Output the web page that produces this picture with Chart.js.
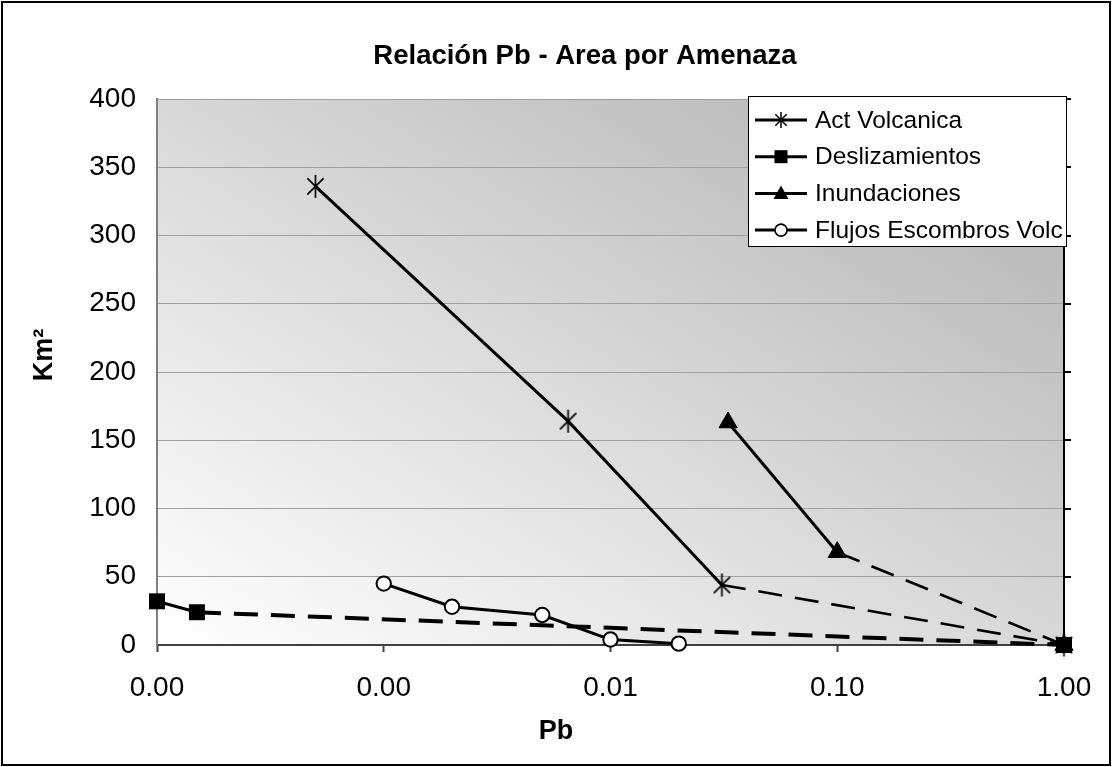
<!DOCTYPE html>
<html>
<head>
<meta charset="utf-8">
<script src="https://cdn.jsdelivr.net/npm/chart.js@4.4.1/dist/chart.umd.min.js"></script>
<style>
  html, body { margin: 0; padding: 0; background: #ffffff; }
  #wrap { position: relative; width: 1112px; height: 767px; }
</style>
</head>
<body>
<div id="wrap"><canvas id="chart"></canvas></div>
<script>
// ---- text ----
const chartTitle = 'Relación Pb - Area por Amenaza';
const xAxisTitle = 'Pb';
const yAxisTitle = 'Km²';
const seriesNames = ['Act Volcanica', 'Deslizamientos', 'Inundaciones', 'Flujos Escombros Volc'];

// ---- data (Pb on a log axis, area in km²) ----
const actVolcanicaPb     = [0.0005, 0.0065, 0.031, 1];
const actVolcanicaArea   = [336, 164, 44, 0];
const deslizamientosPb   = [0.0001, 0.00015, 1];
const deslizamientosArea = [32, 24, 0];
const inundacionesPb     = [0.033, 0.1, 1];
const inundacionesArea   = [163, 68, 0];
const flujosPb           = [0.001, 0.002, 0.005, 0.01, 0.02];
const flujosArea         = [45, 28, 22, 4, 1];

// ---- axis ticks ----
const xTickValues = [0.0001, 0.001, 0.01, 0.1, 1];
const yMin = 0, yMax = 400, yStep = 50;

const FONT = "'Liberation Sans', Arial, Helvetica, sans-serif";
Chart.defaults.font.family = FONT;
Chart.defaults.color = '#000000';

function toPoints(xs, ys) { return xs.map((x, i) => ({ x: x, y: ys[i] })); }

// asterisk marker: vertical bar plus an X
function makeAsterisk(size, lw) {
  const c = document.createElement('canvas');
  c.width = size; c.height = size;
  const g = c.getContext('2d');
  const m = size / 2, r = size / 2 - 1;
  const d = r * Math.SQRT1_2;
  g.strokeStyle = '#000'; g.lineWidth = lw;
  g.beginPath();
  g.moveTo(m, m - r); g.lineTo(m, m + r);
  g.moveTo(m - d, m - d); g.lineTo(m + d, m + d);
  g.moveTo(m - d, m + d); g.lineTo(m + d, m - d);
  g.stroke();
  return c;
}
const asteriskBig = makeAsterisk(25, 1.7);
const asteriskSmall = makeAsterisk(18, 1.5);

// the segment running to Pb = 1 is drawn long-dashed
function lastSegmentStyle(xs, dash, width) {
  const last = xs.length - 1;
  const isLast = ctx => ctx.p1DataIndex === last && xs[last] === 1;
  return {
    borderDash: ctx => isLast(ctx) ? dash : undefined,
    borderWidth: ctx => isLast(ctx) ? width : undefined
  };
}

// plot background: diagonal grey gradient, white bottom-left to grey top-right
const plotBackground = {
  id: 'plotBackground',
  beforeDraw(chart) {
    const { ctx, chartArea: a } = chart;
    const w = a.right - a.left, h = a.bottom - a.top;
    const cx = (a.left + a.right) / 2, cy = (a.top + a.bottom) / 2;
    const len = Math.hypot(w, h);
    const ux = h / len, uy = -w / len;            // perpendicular to the TL-BR diagonal
    const half = (-w / 2) * ux + (h / 2) * uy;    // projection of bottom-left corner
    const g = ctx.createLinearGradient(cx + half * ux, cy + half * uy, cx - half * ux, cy - half * uy);
    g.addColorStop(0, '#ffffff');
    g.addColorStop(1, '#b0b0b0');
    ctx.save();
    ctx.fillStyle = g;
    ctx.fillRect(a.left, a.top, w, h);
    ctx.restore();
  }
};

// right-hand frame line with outward tick marks at each y tick
const rightFrame = {
  id: 'rightFrame',
  beforeDatasetsDraw(chart) {
    const { ctx, chartArea: a, scales } = chart;
    const y = scales.y;
    ctx.save();
    ctx.strokeStyle = '#000';
    ctx.lineWidth = 2;
    ctx.beginPath();
    ctx.moveTo(a.right, a.top);
    ctx.lineTo(a.right, a.bottom);
    y.ticks.forEach(t => {
      const py = Math.round(y.getPixelForValue(t.value));
      ctx.moveTo(a.right, py);
      ctx.lineTo(a.right + 7, py);
    });
    ctx.stroke();
    ctx.restore();
  }
};

function drawLegendMarker(ctx, kind, x, y) {
  ctx.save();
  ctx.fillStyle = '#000'; ctx.strokeStyle = '#000';
  if (kind === 'asterisk') {
    ctx.drawImage(asteriskSmall, x - asteriskSmall.width / 2, y - asteriskSmall.height / 2);
  } else if (kind === 'rect') {
    ctx.fillRect(x - 6.5, y - 6.5, 13, 13);
  } else if (kind === 'triangle') {
    ctx.beginPath();
    ctx.moveTo(x, y - 8); ctx.lineTo(x + 7.5, y + 5.5); ctx.lineTo(x - 7.5, y + 5.5);
    ctx.closePath(); ctx.fill();
  } else if (kind === 'circle') {
    ctx.beginPath(); ctx.arc(x, y, 6, 0, Math.PI * 2);
    ctx.fillStyle = '#fff'; ctx.fill();
    ctx.lineWidth = 1.6; ctx.stroke();
  }
  ctx.restore();
}

// boxed legend in the upper right corner of the plot
const legendBox = {
  id: 'legendBox',
  afterDraw(chart) {
    const { ctx, chartArea: a } = chart;
    const bx = a.right - 316, by = a.top - 3, bw = 319, bh = 151;
    ctx.save();
    ctx.fillStyle = '#ffffff';
    ctx.fillRect(bx, by, bw, bh);
    ctx.strokeStyle = '#000'; ctx.lineWidth = 1;
    ctx.strokeRect(bx + 0.5, by + 0.5, bw - 1, bh - 1);
    ctx.font = '24.5px ' + FONT;
    ctx.textBaseline = 'middle';
    ctx.textAlign = 'left';
    chart.data.datasets.forEach((ds, i) => {
      const ry = by + 24 + i * 36.7;
      ctx.strokeStyle = '#000'; ctx.lineWidth = 3;
      ctx.beginPath(); ctx.moveTo(bx + 7, ry); ctx.lineTo(bx + 59, ry); ctx.stroke();
      drawLegendMarker(ctx, ds.legendMarker, bx + 33, ry);
      ctx.fillStyle = '#000';
      ctx.fillText(ds.label, bx + 67, ry + 1);
    });
    ctx.restore();
  }
};

// chart title, axis titles and the outer frame
const titlesAndFrame = {
  id: 'titlesAndFrame',
  afterDraw(chart) {
    const { ctx } = chart;
    ctx.save();
    ctx.fillStyle = '#000';
    ctx.textAlign = 'center';
    ctx.textBaseline = 'middle';
    ctx.font = 'bold 27.5px ' + FONT;
    ctx.fillText(chartTitle, 585, 56);
    ctx.font = 'bold 27px ' + FONT;
    ctx.fillText(xAxisTitle, 556, 732);
    ctx.translate(45, 355);
    ctx.rotate(-Math.PI / 2);
    ctx.fillText(yAxisTitle, 0, 0);
    ctx.restore();
    ctx.save();
    ctx.strokeStyle = '#000'; ctx.lineWidth = 2;
    ctx.strokeRect(2, 2, chart.width - 4, chart.height - 4);
    ctx.restore();
  }
};

const dashPattern = [24, 13];

new Chart(document.getElementById('chart'), {
  type: 'line',
  data: {
    datasets: [
      {
        label: seriesNames[0],
        data: toPoints(actVolcanicaPb, actVolcanicaArea),
        borderColor: '#000', borderWidth: 3,
        pointStyle: asteriskBig, pointRadius: 11,
        pointBorderColor: '#000', pointBackgroundColor: '#000',
        segment: lastSegmentStyle(actVolcanicaPb, dashPattern, 2.6),
        legendMarker: 'asterisk', order: 4
      },
      {
        label: seriesNames[1],
        data: toPoints(deslizamientosPb, deslizamientosArea),
        borderColor: '#000', borderWidth: 3,
        pointStyle: 'rect', pointRadius: 11.3, pointBorderWidth: 0,
        pointBorderColor: '#000', pointBackgroundColor: '#000',
        segment: lastSegmentStyle(deslizamientosPb, dashPattern, 4),
        legendMarker: 'rect', order: 2
      },
      {
        label: seriesNames[2],
        data: toPoints(inundacionesPb, inundacionesArea),
        borderColor: '#000', borderWidth: 3,
        pointStyle: 'triangle', pointRadius: 10.5, pointBorderWidth: 1,
        pointBorderColor: '#000', pointBackgroundColor: '#000',
        segment: lastSegmentStyle(inundacionesPb, dashPattern, 2.6),
        legendMarker: 'triangle', order: 3
      },
      {
        label: seriesNames[3],
        data: toPoints(flujosPb, flujosArea),
        borderColor: '#000', borderWidth: 3,
        pointStyle: 'circle', pointRadius: 7.2, pointBorderWidth: 2,
        pointBorderColor: '#000', pointBackgroundColor: '#ffffff',
        legendMarker: 'circle', order: 1
      }
    ]
  },
  options: {
    responsive: true,
    maintainAspectRatio: false,
    animation: false,
    events: [],
    layout: { padding: { left: 0, right: 48, top: 99, bottom: 0 } },
    plugins: {
      legend: { display: false },
      title: { display: false },
      tooltip: { enabled: false }
    },
    elements: { line: { tension: 0, fill: false }, point: { hoverRadius: 0 } },
    datasets: { line: { clip: false } },
    scales: {
      x: {
        type: 'logarithmic',
        position: 'bottom',
        min: xTickValues[0],
        max: xTickValues[xTickValues.length - 1],
        afterBuildTicks(scale) {
          scale.ticks = xTickValues.map(v => ({ value: v }));
        },
        afterFit(scale) { scale.height = 122; },
        ticks: {
          autoSkip: false, maxRotation: 0, minRotation: 0,
          padding: 19,
          font: { size: 28 }, color: '#000',
          callback: v => Number(v).toFixed(2)
        },
        grid: {
          drawOnChartArea: false, drawTicks: true,
          tickLength: 7, tickColor: '#404040', tickWidth: 2
        },
        border: { display: true, color: '#404040', width: 2 },
        title: { display: false }
      },
      y: {
        type: 'linear',
        position: 'left',
        min: yMin, max: yMax,
        afterFit(scale) { scale.width = 157; },
        ticks: {
          stepSize: yStep, padding: 21,
          font: { size: 28 }, color: '#000'
        },
        grid: { color: '#a0a0a0', lineWidth: 1, drawTicks: false },
        border: { display: true, color: '#808080', width: 2 },
        title: { display: false }
      }
    }
  },
  plugins: [plotBackground, rightFrame, legendBox, titlesAndFrame]
});
</script>
</body>
</html>
